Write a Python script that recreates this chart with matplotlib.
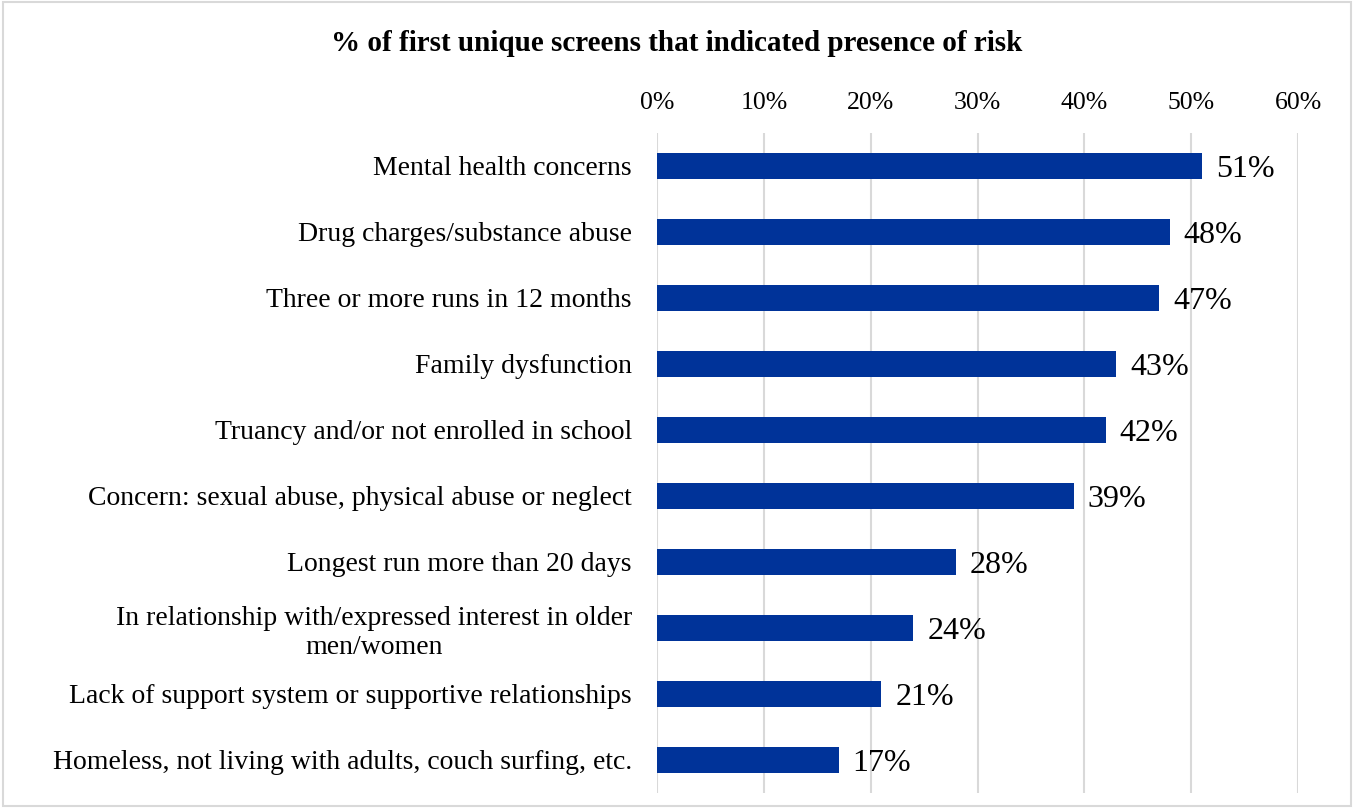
import numpy as np
import matplotlib.pyplot as plt
from matplotlib.patches import Rectangle

# risk categories and share of first unique screens (%)
categories = [
    "Mental health concerns",
    "Drug charges/substance abuse",
    "Three or more runs in 12 months",
    "Family dysfunction",
    "Truancy and/or not enrolled in school",
    "Concern: sexual abuse, physical abuse or neglect",
    "Longest run more than 20 days",
    "In relationship with/expressed interest in older\nmen/women",
    "Lack of support system or supportive relationships",
    "Homeless, not living with adults, couch surfing, etc.",
]
values = [51, 48, 47, 43, 42, 39, 28, 24, 21, 17]
ticks = [0, 10, 20, 30, 40, 50, 60]

plt.rcParams['font.family'] = ['Liberation Serif', 'DejaVu Serif']

fig = plt.figure(figsize=(13.54, 8.08), dpi=100)
ax = fig.add_axes([0.4852, 0.0186, 0.4735, 0.8168])

y = np.arange(len(categories))
bars = ax.barh(y, values, height=0.4, color='#003399', zorder=3)

ax.set_xlim(0, 60)
ax.set_ylim(len(categories) - 0.5, -0.5)
ax.set_xticks(ticks)
ax.set_xticklabels([f"{t}%" for t in ticks], fontsize=18.5)
ax.xaxis.tick_top()
ax.tick_params(axis='x', length=0, pad=14)
ax.tick_params(axis='y', length=0, pad=18)
ax.set_yticks(y)
ax.set_yticklabels(categories, fontsize=20, multialignment='center')
ax.grid(axis='x', color='#d9d9d9', linewidth=1.5, zorder=0)
for s in ax.spines.values():
    s.set_visible(False)

# value labels to the right of each bar
for yi, v in zip(y, values):
    ax.text(v + 1.3, yi, f"{v}%", va='center_baseline', ha='left', fontsize=23)

fig.text(0.5, 0.946, "% of first unique screens that indicated presence of risk",
         ha='center', va='center', fontsize=21, fontweight='bold')

# light frame around the chart area
fig.patches.append(Rectangle((0.002, 0.002), 0.996, 0.996, transform=fig.transFigure,
                             fill=False, edgecolor='#d9d9d9', linewidth=1.5))

fig.savefig('out.png', dpi=100)
